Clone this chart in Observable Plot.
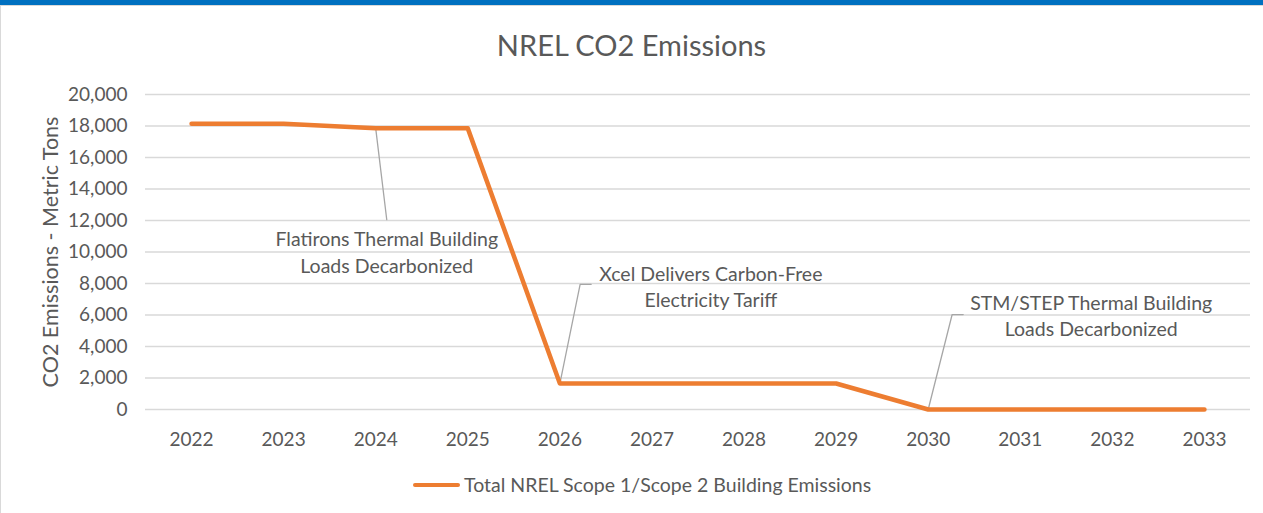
<!DOCTYPE html>
<html><head><meta charset="utf-8">
<script src="https://cdn.jsdelivr.net/npm/d3@7"></script>
<script src="https://cdn.jsdelivr.net/npm/@observablehq/plot@0.6"></script>
<style>
body{margin:0;background:#fff;font-family:Lato,sans-serif;}
#frame{position:relative;width:1263px;height:513px;overflow:hidden;background:#fff}
#bar{position:absolute;left:0;top:0;width:1263px;height:5px;background:#0070C0}
#edge{position:absolute;left:0;top:5px;width:1263px;height:508px;box-sizing:border-box;border-top:1px solid #d9d9d9;border-left:1px solid #d9d9d9}
#title{position:absolute;left:0;top:28px;width:1263px;text-align:center;font-size:29px;line-height:34px;color:#595959}
#chart{position:absolute;left:0;top:75px}
#legend{position:absolute;left:413px;top:473px;display:flex;align-items:center;font-size:19.5px;color:#595959;line-height:24px}
#legend .sw{width:47px;height:4px;border-radius:2px;background:#ED7D31;margin-right:4px}
</style></head>
<body>
<div id="frame">
  <div id="bar"></div><div id="edge"></div>
  <div id="title">NREL CO2 Emissions</div>
  <div id="chart"></div>
  <div id="legend"><span class="sw"></span><span>Total NREL Scope 1/Scope 2 Building Emissions</span></div>
</div>
<script>
// ---- data ----
const years = [2022, 2023, 2024, 2025, 2026, 2027, 2028, 2029, 2030, 2031, 2032, 2033];
const emissions = [18150, 18150, 17850, 17850, 1650, 1650, 1650, 1650, 0, 0, 0, 0];
const yTicks = [0, 2000, 4000, 6000, 8000, 10000, 12000, 14000, 16000, 18000, 20000];
const seriesName = "Total NREL Scope 1/Scope 2 Building Emissions";
const yLabel = "CO2 Emissions - Metric Tons";

// annotations (anchored in data units)
const annLabels = ["Flatirons Thermal Building\nLoads Decarbonized", "Xcel Delivers Carbon-Free\nElectricity Tariff", "STM/STEP Thermal Building\nLoads Decarbonized"];
const annYear = [2024, 2026, 2030];
const annValue = [17850, 1650, 0];
const annElbowYear = [2024.12, 2026.22, 2030.26];
const annElbowValue = [12050, 7950, 6030];
const annEndYear = [2024.12, 2026.34, 2030.38];
const annTextYear = [2024.12, 2027.64, 2031.77];
const annTextValue = [10050, 7880, 6020];

const data = years.map((y, i) => ({year: y, value: emissions[i]}));
const leaders = [];
annLabels.forEach((l, i) => {
  leaders.push({k: i, x: annYear[i], y: annValue[i]});
  leaders.push({k: i, x: annElbowYear[i], y: annElbowValue[i]});
  leaders.push({k: i, x: annEndYear[i], y: annElbowValue[i]});
});
const texts = annLabels.map((l, i) => ({label: l, x: annTextYear[i], y: annTextValue[i]}));

const plot = Plot.plot({
  width: 1263,
  height: 385,
  marginLeft: 145,
  marginRight: 13,
  marginTop: 19,
  marginBottom: 51,
  style: {fontFamily: "Lato, sans-serif", fontSize: "19px", color: "#595959", background: "transparent"},
  x: {type: "linear", domain: [2021.5, 2033.5]},
  y: {domain: [0, 20000]},
  marks: [
    Plot.gridY(yTicks, {stroke: "#d9d9d9", strokeOpacity: 1, strokeWidth: 1.3}),
    Plot.axisY(yTicks, {tickSize: 0, tickPadding: 18, tickFormat: d3.format(","), fill: "#595959", fontSize: 19}),
    Plot.axisY({ticks: [], tickSize: 0, label: yLabel, labelAnchor: "center", labelArrow: "none", labelOffset: 103, fontSize: 21.5, fill: "#595959"}),
    Plot.axisX(years, {tickSize: 0, tickPadding: 23, tickFormat: "d", fill: "#595959", label: null, fontSize: 19}),
    Plot.line(leaders, {x: "x", y: "y", z: "k", stroke: "#A6A6A6", strokeWidth: 1.3}),
    Plot.line(data, {x: "year", y: "value", stroke: "#ED7D31", strokeWidth: 4.5, strokeLinecap: "round", strokeLinejoin: "round"}),
    Plot.text(texts, {x: "x", y: "y", text: "label", textAnchor: "middle", lineAnchor: "middle", lineHeight: 1.36, fill: "#595959", fontSize: 19.5})
  ]
});
document.getElementById("chart").appendChild(plot);
</script>
</body></html>
